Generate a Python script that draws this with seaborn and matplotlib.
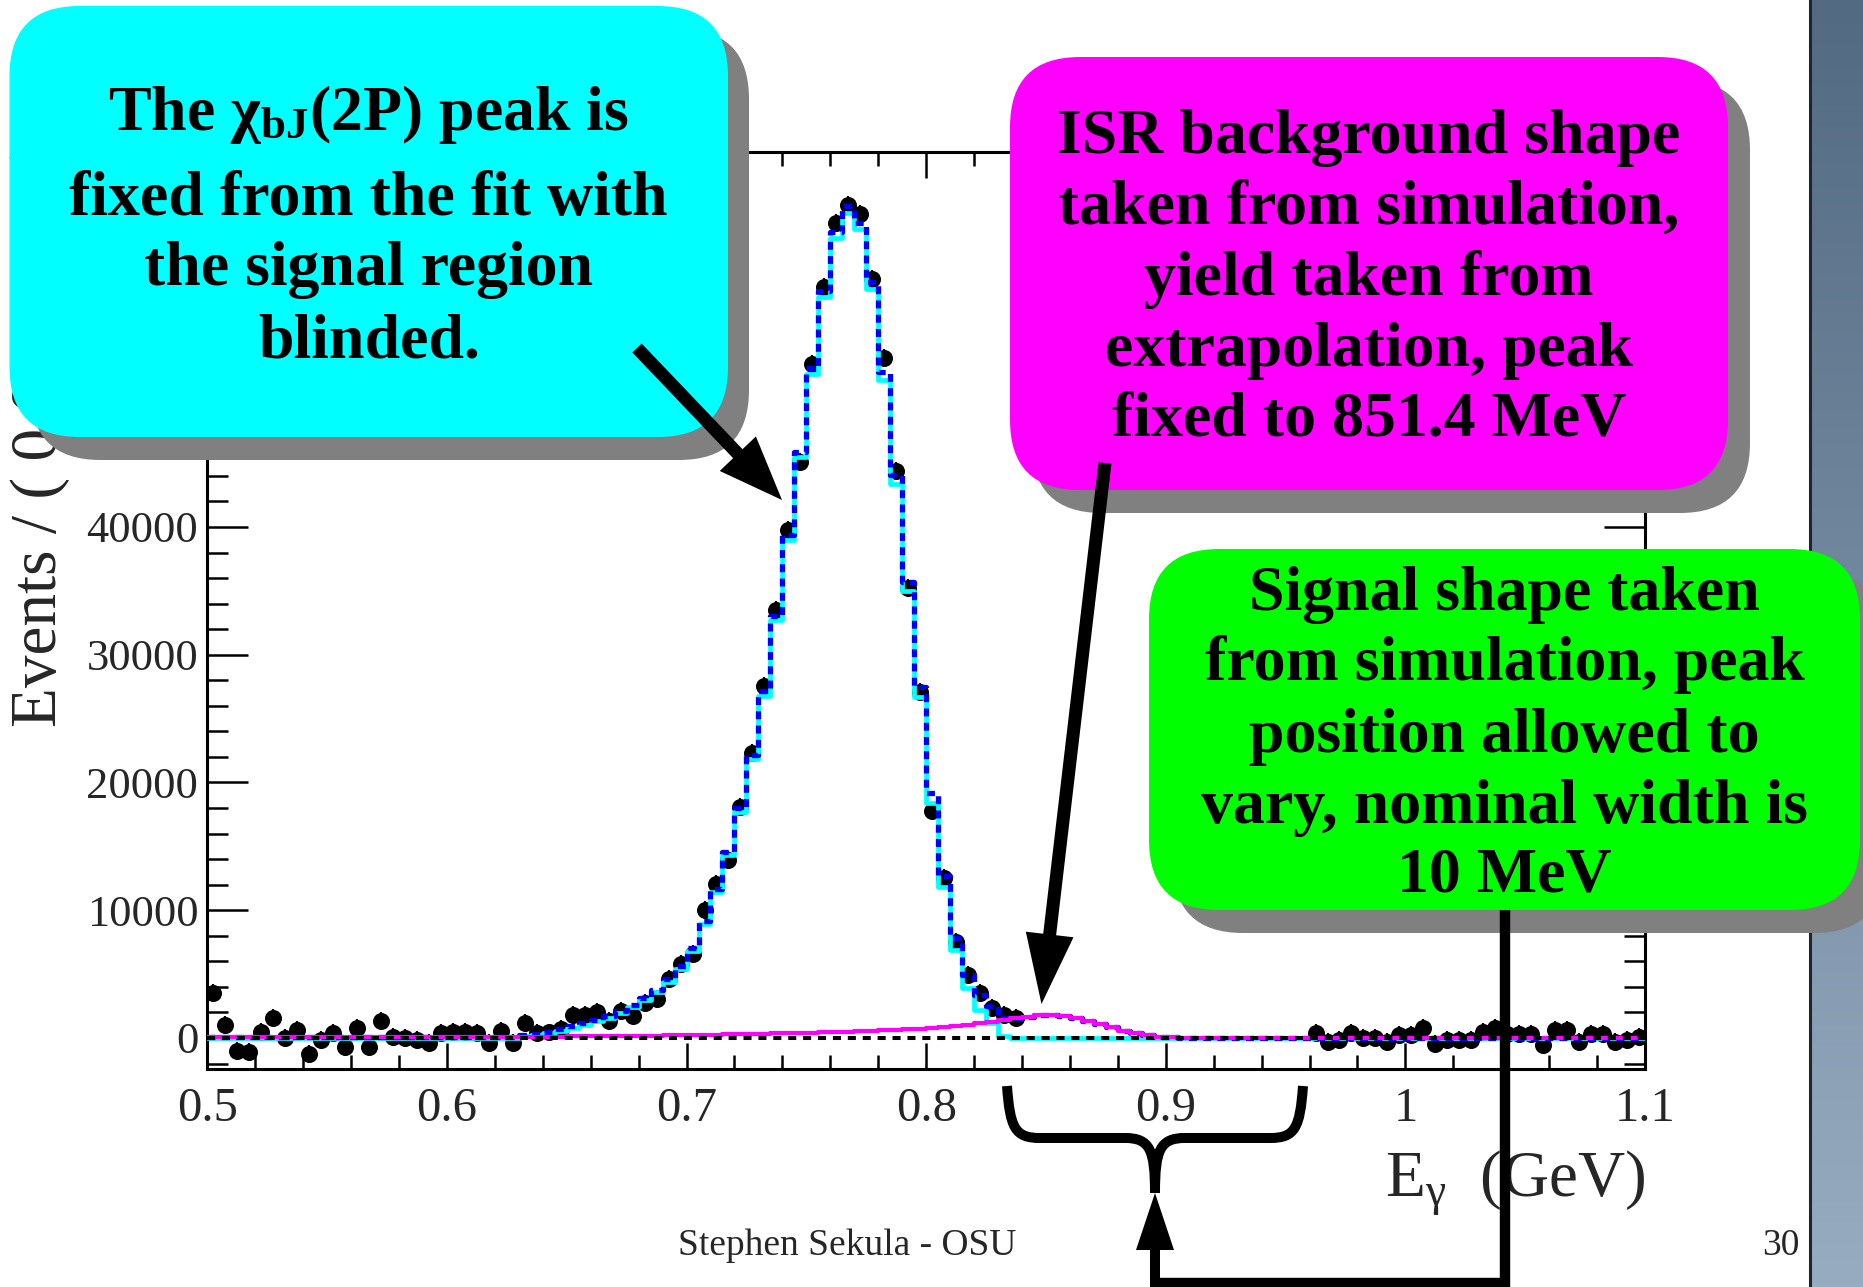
import numpy as np
import pandas as pd
import matplotlib
matplotlib.use("Agg")
import matplotlib.pyplot as plt
import seaborn as sns
from matplotlib.patches import FancyBboxPatch, FancyArrow, PathPatch
from matplotlib.path import Path
from matplotlib.ticker import MultipleLocator, FuncFormatter
from matplotlib.colors import LinearSegmentedColormap

# ---------------------------------------------------------------
# Binning: 5 MeV bins of photon energy between 0.5 and 1.1 GeV
# ---------------------------------------------------------------
E_MIN, E_MAX, N_BINS = 0.5, 1.1, 120
edges = np.linspace(E_MIN, E_MAX, N_BINS + 1)
centers = 0.5 * (edges[:-1] + edges[1:])

# Observed events per bin, 0.500 - 0.840 GeV (below the blinded window)
data_low = [
    3550, 980, -1000, -1130, 450, 1540, 0, 630, -1260, -150,
    400, -700, 800, -700, 1350, 100, 0, -160, -410, 420,
    500, 500, 370, -410, 550, -380, 1180, 400, 430, 700,
    1800, 1800, 2000, 1350, 2120, 1730, 2720, 3050, 4600, 5800,
    6600, 10050, 12050, 13950, 18100, 22330, 27550, 33500, 39770, 45110,
    52740, 58810, 63820, 65200, 64480, 59410, 53200, 44380, 35200, 27110,
    17790, 12550, 7540, 4930, 3500, 2320, 1800, 1540,
]
# Bins 0.840 - 0.960 GeV are blinded (no data shown)
N_BLIND = 24
# Observed events per bin, 0.960 - 1.100 GeV (above the blinded window)
data_high = [
    370, -290, -160, 370, 0, 0, -290, 240, 240, 760,
    -450, -160, -160, -160, 470, 760, 340, 340, 340, -570,
    600, 600, -290, 340, 340, -290, -160, 80,
]
stat_err = 700

# Fitted chi_bJ(2P) peak component per bin
chi_peak_fit = [
    0, 0, 0, 0, 0, 0, 0, 0, 0, 0,
    0, 0, 0, 0, 0, 0, 0, 0, 0, 0,
    0, 0, 0, 0, 0, 0, 150, 250, 380, 560,
    800, 1050, 1300, 1600, 1950, 2400, 2950, 3600, 4400, 5400,
    6800, 8900, 11400, 14300, 17700, 21800, 26800, 32700, 39000, 45500,
    52000, 58000, 62600, 64600, 63300, 58600, 51500, 43400, 35000, 26700,
    18400, 11800, 6900, 3900, 2200, 1200, 150, 0, 0, 0,
    0, 0, 0, 0, 0, 0, 0, 0, 0, 0,
    0, 0, 0, 0, 0, 0, 0, 0, 0, 0,
    0, 0, 0, 0, 0, 0, 0, 0, 0, 0,
    0, 0, 0, 0, 0, 0, 0, 0, 0, 0,
    0, 0, 0, 0, 0, 0, 0, 0, 0, 0,
]
# ISR background component per bin (peak fixed at 851.4 MeV)
isr_fit = [
    40, 40, 40, 40, 40, 40, 40, 40, 40, 40,
    40, 40, 40, 40, 40, 40, 40, 40, 40, 40,
    60, 60, 70, 70, 80, 80, 90, 90, 100, 110,
    120, 130, 140, 150, 160, 170, 180, 190, 200, 220,
    230, 250, 260, 280, 300, 320, 340, 360, 380, 400,
    420, 440, 470, 500, 530, 560, 600, 640, 690, 740,
    800, 870, 950, 1040, 1150, 1270, 1400, 1530, 1650, 1760,
    1800, 1740, 1580, 1340, 1080, 820, 580, 380, 220, 110,
    50, 20, 10, 0, 0, 0, 0, 0, 0, 0,
    0, 0, 0, 0, 0, 0, 0, 0, 0, 0,
    0, 0, 0, 0, 0, 0, 0, 0, 0, 0,
    0, 0, 0, 0, 0, 0, 0, 0, 0, 0,
]
# Flat combinatorial background component (consistent with zero)
bkg_fit = np.zeros(N_BINS)

x_ticks = [0.5, 0.6, 0.7, 0.8, 0.9, 1.0, 1.1]
x_tick_labels = ["0.5", "0.6", "0.7", "0.8", "0.9", "1", "1.1"]
y_ticks = [0, 10000, 20000, 30000, 40000, 50000, 60000]
# the two top labels sit behind the first call-out box
y_tick_labels = ["0", "10000", "20000", "30000", "40000", "", ""]

# ---------------------------------------------------------------
sns.set_theme(style="ticks")
plt.rcParams["font.family"] = ["Liberation Serif", "DejaVu Serif"]
plt.rcParams["mathtext.fontset"] = "custom"
plt.rcParams["mathtext.rm"] = "Liberation Serif"
plt.rcParams["mathtext.it"] = "Liberation Serif:italic"
plt.rcParams["mathtext.bf"] = "Liberation Serif:bold"

W, H = 1863, 1287
fig = plt.figure(figsize=(W / 100, H / 100), dpi=100)
fig.patch.set_facecolor("white")

# plot frame in pixel coordinates
ax_l, ax_r, ax_t, ax_b = 207.3, 1645.0, 152.0, 1069.0
ax = fig.add_axes([ax_l / W, 1 - ax_b / H, (ax_r - ax_l) / W, (ax_b - ax_t) / H])
ax.set_facecolor("white")

events = np.array(data_low + [np.nan] * N_BLIND + data_high, dtype=float)
df = pd.DataFrame({"E": centers, "events": events}).dropna()

total_fit = np.array(chi_peak_fit, float) + np.array(isr_fit, float) + bkg_fit


def step_curve(values, **kw):
    y = np.append(values, values[-1])
    sns.lineplot(x=edges, y=y, drawstyle="steps-post", sort=False,
                 errorbar=None, legend=False, ax=ax, **kw)


ax.errorbar(df["E"], df["events"], yerr=stat_err, fmt="none",
            ecolor="black", elinewidth=1.6, capsize=0, zorder=2.5)
sns.scatterplot(data=df, x="E", y="events", s=150, color="black",
                edgecolor="black", linewidth=0, zorder=3, ax=ax, legend=False)

step_curve(np.array(chi_peak_fit, float), color="#00ffff", lw=3.4, zorder=4)
step_curve(total_fit, color="#0000ff", lw=3.8, linestyle=(0, (1.5, 1.2)), zorder=5)
step_curve(np.array(isr_fit, float), color="#ff00ff", lw=3.0, zorder=6)
step_curve(bkg_fit, color="black", lw=2.9, linestyle=(0, (2.0, 1.7)), zorder=7)

ax.set_xlim(E_MIN, E_MAX)
ax.set_ylim(-2430, 69350)
ax.set_xlabel("")
ax.set_ylabel("")
ax.set_xticks(x_ticks, labels=x_tick_labels)
ax.set_yticks(y_ticks, labels=y_tick_labels)
ax.xaxis.set_minor_locator(MultipleLocator(0.02))
ax.yaxis.set_minor_locator(MultipleLocator(2000))
ax.tick_params(which="both", direction="in", top=True, right=True,
               color="black", width=1.8)
ax.tick_params(axis="x", which="major", length=19, pad=13, labelsize=35)
ax.tick_params(axis="x", which="minor", length=10)
ax.tick_params(axis="y", which="major", length=29.5, pad=6.5, labelsize=32)
ax.tick_params(axis="y", which="minor", length=15)
for lab in ax.get_xticklabels() + ax.get_yticklabels():
    lab.set_fontfamily(["Liberation Serif", "DejaVu Serif"])
for sp in ax.spines.values():
    sp.set_linewidth(2.2)
    sp.set_color("black")

# ---------------------------------------------------------------
# Slide overlay in pixel coordinates
# ---------------------------------------------------------------
ov = fig.add_axes([0, 0, 1, 1], zorder=5)
ov.set_xlim(0, W)
ov.set_ylim(H, 0)
ov.axis("off")
ov.patch.set_alpha(0)

# side bar with vertical gradient
bar_cmap = LinearSegmentedColormap.from_list("bar", ["#526a82", "#98acc1"])
ov.imshow(np.linspace(0, 1, 256).reshape(-1, 1), cmap=bar_cmap,
          extent=[1809, W, H, 0], aspect="auto", zorder=1)
ov.plot([1809.5, 1809.5], [0, H], color="#1e2530", lw=2.2, zorder=1.5)
ov.set_xlim(0, W)
ov.set_ylim(H, 0)

# axis titles (ROOT style: aligned to axis ends)
ov.text(40, 727, "Events / ( 0.005 GeV )", rotation=90, ha="center",
        va="bottom", fontsize=47, zorder=2)
ov.text(1645, 1197, r"E$_{\mathrm{\gamma}}$  (GeV)", ha="right",
        va="baseline", fontsize=47, zorder=2)

# footer
ov.text(847, 1255, "Stephen Sekula - OSU", ha="center", va="baseline",
        fontsize=27, zorder=2)
ov.text(1800, 1255, "30", ha="right", va="baseline", fontsize=27, zorder=2)


def callout(x0, y0, x1, y1, color, lines, baselines, off=(22, 22)):
    shadow = FancyBboxPatch((x0 + off[0], y0 + off[1]), x1 - x0, y1 - y0,
                            boxstyle="round,pad=0,rounding_size=70",
                            fc="#808080", ec="none", zorder=3)
    box = FancyBboxPatch((x0, y0), x1 - x0, y1 - y0,
                         boxstyle="round,pad=0,rounding_size=70",
                         fc=color, ec="none", zorder=4)
    ov.add_patch(shadow)
    ov.add_patch(box)
    cx = 0.5 * (x0 + x1)
    for txt, yb in zip(lines, baselines):
        ov.text(cx, yb, txt, ha="center", va="baseline", fontsize=46,
                fontweight="bold", color="black", zorder=5)


callout(9.5, 6, 728, 437, "#00ffff",
        [r"The χ$_{\mathbf{bJ}}$(2P) peak is", "fixed from the fit with",
         "the signal region", "blinded."],
        [130, 215, 285, 357], off=(21, 23))
callout(1010, 57, 1728, 490, "#ff00ff",
        ["ISR background shape", "taken from simulation,", "yield taken from",
         "extrapolation, peak", "fixed to 851.4 MeV"],
        [153, 224, 295, 366, 436], off=(22, 23))
callout(1149, 549, 1860, 910, "#00ff00",
        ["Signal shape taken", "from simulation, peak", "position allowed to",
         "vary, nominal width is", "10 MeV"],
        [610, 680, 752, 823, 892], off=(24, 23))

# arrows
ov.add_patch(FancyArrow(637, 348, 782 - 637, 500 - 348, width=13,
                        head_width=50, head_length=64,
                        length_includes_head=True, fc="black", ec="none",
                        zorder=6))
ov.add_patch(FancyArrow(1105, 463, 1041.5 - 1105, 1004 - 463, width=13,
                        head_width=48, head_length=70,
                        length_includes_head=True, fc="black", ec="none",
                        zorder=6))
ov.add_patch(FancyArrow(1155, 1287, 0, 1193 - 1287, width=10,
                        head_width=38, head_length=57,
                        length_includes_head=True, fc="black", ec="none",
                        zorder=6))
ov.plot([1155, 1505, 1505], [1283, 1283, 910], color="black", lw=7.5,
        solid_joinstyle="miter", solid_capstyle="butt", zorder=6)

# curly brace under the blinded window
verts = [
    (1007, 1086), (1010, 1128), (1015, 1138), (1040, 1138),
    (1125, 1138),
    (1150, 1138), (1155, 1150), (1155, 1193),
    (1155, 1150), (1160, 1138), (1185, 1138),
    (1270, 1138),
    (1295, 1138), (1300, 1128), (1303, 1086),
]
codes = [Path.MOVETO, Path.CURVE4, Path.CURVE4, Path.CURVE4,
         Path.LINETO,
         Path.CURVE4, Path.CURVE4, Path.CURVE4,
         Path.CURVE4, Path.CURVE4, Path.CURVE4,
         Path.LINETO,
         Path.CURVE4, Path.CURVE4, Path.CURVE4]
ov.add_patch(PathPatch(Path(verts, codes), fc="none", ec="black", lw=7.2,
                       capstyle="butt", zorder=6))

fig.savefig("out.png", dpi=100)
